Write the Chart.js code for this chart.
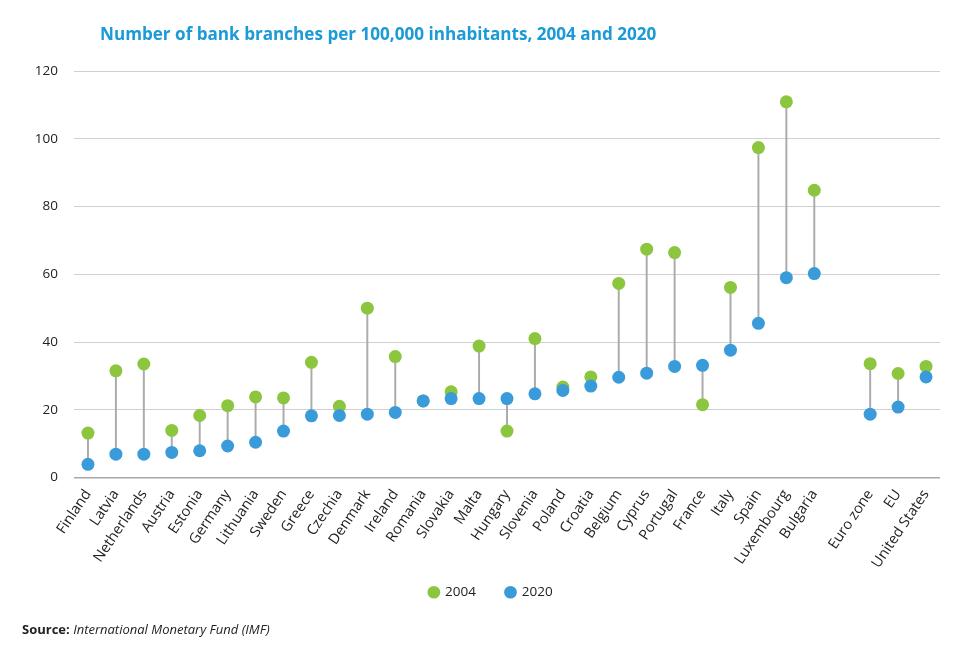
<!DOCTYPE html>
<html>
<head>
<meta charset="utf-8">
<script src="https://cdn.jsdelivr.net/npm/chart.js@4"></script>
<style>
  html, body { margin: 0; padding: 0; background: #fff; }
  #Wrap { position: relative; width: 972px; height: 661px; overflow: hidden; }
  #Title {
    position: absolute; left: 100px; top: 21px;
    font-family: "Open Sans", sans-serif; font-weight: 700; font-size: 18px;
    color: #1a9ad6; transform: scaleX(0.95); transform-origin: left top;
    white-space: nowrap;
  }
  #Source {
    position: absolute; left: 22px; top: 620px;
    font-family: "Open Sans", sans-serif; font-size: 13px; color: #222;
  }
  #Source b { font-weight: 700; }
  canvas { position: absolute; left: 0; top: 0; }
</style>
</head>
<body>
<div id="Wrap">
  <canvas id="DotChart" width="972" height="661"></canvas>
  <div id="Title">Number of bank branches per 100,000 inhabitants, 2004 and 2020</div>
  <div id="Source"><b>Source:</b> <i>International Monetary Fund (IMF)</i></div>
</div>
<script>
const countries = [
  "Finland", "Latvia", "Netherlands", "Austria", "Estonia", "Germany",
  "Lithuania", "Sweden", "Greece", "Czechia", "Denmark", "Ireland",
  "Romania", "Slovakia", "Malta", "Hungary", "Slovenia", "Poland",
  "Croatia", "Belgium", "Cyprus", "Portugal", "France", "Italy", "Spain",
  "Luxembourg", "Bulgaria", "", "Euro zone", "EU", "United States",
];

const values2004 = [
  13.1, 31.5, 33.5, 13.9, 18.3, 21.2, 23.8, 23.5, 34.0, 21.0, 50.0, 35.7,
  22.6, 25.3, 38.8, 13.7, 41.0, 26.7, 29.7, 57.3, 67.4, 66.4, 21.5, 56.1,
  97.4, 110.9, 84.8, null, 33.6, 30.7, 32.8,
];

const values2020 = [
  3.9, 6.9, 6.9, 7.4, 7.9, 9.3, 10.4, 13.7, 18.2, 18.3, 18.7, 19.2,
  22.6, 23.3, 23.3, 23.3, 24.7, 25.7, 27.0, 29.6, 30.8, 32.8, 33.1, 37.6,
  45.5, 59.0, 60.2, null, 18.7, 20.8, 29.7,
];

const yTicks = [0, 20, 40, 60, 80, 100, 120];

const green = "#8cc63f";
const blue = "#3a9bdb";
const fontFamily = "'Open Sans', sans-serif";

const connectors = values2004.map((value, index) =>
  value === null ? null : [value, values2020[index]],
);

// the legend sits a bit higher and to the right of where Chart.js puts it
const legendNudge = {
  id: "legendNudge",
  afterLayout(chart) {
    const legend = chart.legend;
    if (!legend) return;
    legend.left += 21;
    legend.right += 21;
    legend.top -= 22;
    legend.bottom -= 22;
  },
};

new Chart(document.querySelector("#DotChart"), {
  type: "bar",
  data: {
    labels: countries,
    datasets: [
      {
        label: "range",
        data: connectors,
        backgroundColor: "#ababab",
        barThickness: 1.3,
        order: 3,
      },
      {
        type: "line",
        label: "2004",
        data: values2004,
        showLine: false,
        pointRadius: 6.5,
        pointHoverRadius: 6.5,
        pointBackgroundColor: green,
        pointBorderWidth: 0,
        backgroundColor: green,
        borderColor: green,
        order: 2,
      },
      {
        type: "line",
        label: "2020",
        data: values2020,
        showLine: false,
        pointRadius: 6.5,
        pointHoverRadius: 6.5,
        pointBackgroundColor: blue,
        pointBorderWidth: 0,
        backgroundColor: blue,
        borderColor: blue,
        order: 1,
      },
    ],
  },
  plugins: [legendNudge],
  options: {
    responsive: false,
    animation: false,
    layout: {
      padding: { top: 71, left: 0, right: 32, bottom: 30 },
    },
    scales: {
      x: {
        offset: true,
        grid: { display: false, drawTicks: false },
        border: { display: false },
        ticks: {
          autoSkip: false,
          minRotation: 56,
          maxRotation: 56,
          padding: 9,
          color: "#222",
          font: { family: fontFamily, size: 14.5 },
        },
        afterFit: (scale) => {
          scale.height = 100;
        },
      },
      y: {
        min: 0,
        max: 120,
        afterBuildTicks: (scale) => {
          scale.ticks = yTicks.map((value) => ({ value }));
        },
        grid: {
          color: (ctx) => (ctx.tick && ctx.tick.value === 0 ? "#a8a8a8" : "#d0d0d0"),
          lineWidth: (ctx) => (ctx.tick && ctx.tick.value === 0 ? 1.5 : 1),
          drawTicks: false,
        },
        border: { display: false },
        ticks: {
          padding: 16,
          color: "#222",
          font: { family: fontFamily, size: 13.5 },
        },
        afterFit: (scale) => {
          scale.width = 74;
        },
      },
    },
    plugins: {
      tooltip: { enabled: false },
      legend: {
        position: "bottom",
        labels: {
          usePointStyle: true,
          pointStyle: "circle",
          boxWidth: 9,
          boxHeight: 9,
          padding: 30,
          color: "#222",
          font: { family: fontFamily, size: 13.5 },
          filter: (item) => item.text !== "range",
          sort: (a, b) => a.text.localeCompare(b.text),
        },
      },
    },
  },
});
</script>
</body>
</html>
